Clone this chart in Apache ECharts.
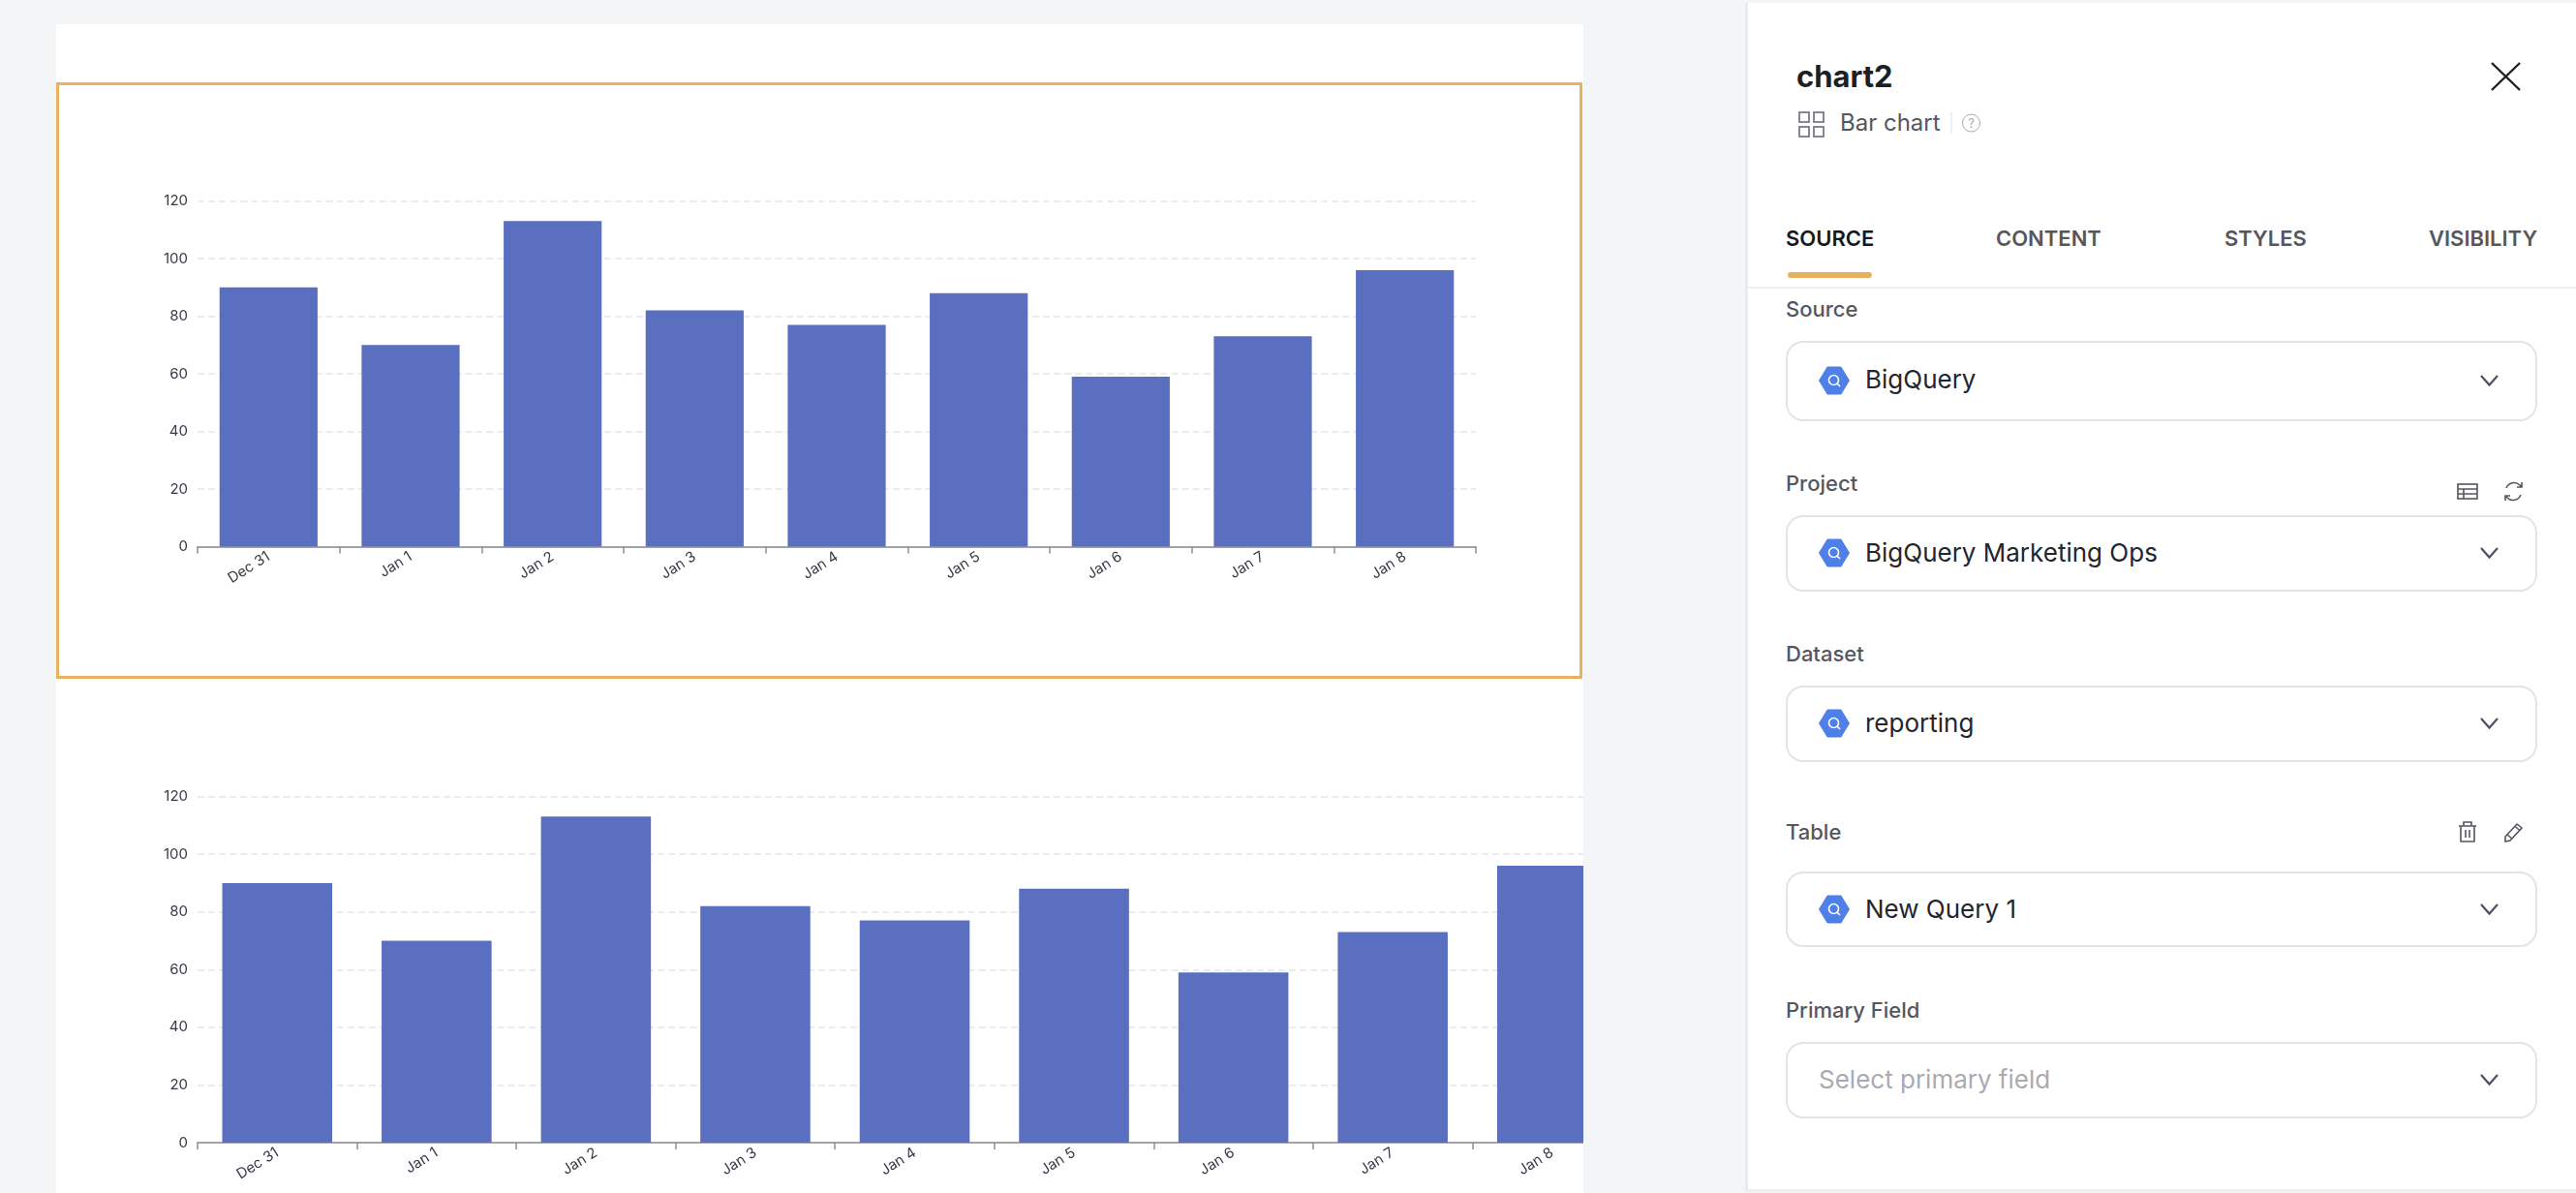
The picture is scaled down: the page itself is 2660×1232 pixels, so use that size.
<!DOCTYPE html>
<html>
<head>
<meta charset="utf-8">
<title>chart2</title>
<script src="https://cdn.jsdelivr.net/npm/echarts@6/dist/echarts.min.js"></script>
<style>
html, body { margin: 0; padding: 0; width: 2660px; height: 1232px; overflow: hidden; background: #f4f5f7; font-family: Inter, sans-serif; }
#chart { position: absolute; left: 58px; top: 25px; width: 1577px; height: 1207px; background: #fff; }
#frame { position: absolute; left: 58px; top: 85px; width: 1570px; height: 610px; border: 3px solid #e8b15f; pointer-events: none; }
#panel { position: absolute; left: 1802px; top: 3px; width: 858px; height: 1225px; background: #fff; border-left: 3px solid #e9eaee; border-bottom: 3px solid #eeeff2; }
.t { position: absolute; white-space: nowrap; transform: translateY(-50%); line-height: 1.2; }
.label { font-size: 22px; font-weight: 500; color: #55565e; left: 1844px; }
.tab { font-size: 22px; font-weight: 600; color: #55565e; }
.val { font-size: 26px; color: #24262d; left: 1926px; }
.box { position: absolute; left: 1844px; width: 772px; border: 2px solid #e3e4e9; border-radius: 18px; background: #fff; }
svg.i { position: absolute; overflow: visible; }
</style>
</head>
<body>
<div id="chart"></div>
<div id="frame"></div>
<div id="panel"></div>

<div class="t" style="left:1855px;top:79px;font-size:31px;font-weight:700;color:#1d1f25">chart2</div>
<svg class="i" style="left:2572px;top:64px" width="31" height="30" fill="none" stroke="#1d1f25" stroke-width="2.4"><path d="M1 1L30 29M30 1L1 29"/></svg>
<svg class="i" style="left:1857px;top:115px" width="27" height="27" fill="none" stroke="#7a7c84" stroke-width="1.8"><rect x="1" y="1" width="10" height="10"/><rect x="16" y="1" width="10" height="10"/><rect x="1" y="16" width="10" height="10"/><rect x="16" y="16" width="10" height="10"/></svg>
<div class="t" style="left:1900px;top:127px;font-size:24px;color:#55565e">Bar chart</div>
<div style="position:absolute;left:2014px;top:116px;width:2px;height:22px;background:#eeeff2"></div>
<div class="t" style="left:2026px;top:127px;width:17px;height:17px;border:1.5px solid #a9abb2;border-radius:50%;font-size:13px;line-height:17px;text-align:center;color:#a9abb2">?</div>

<div class="t tab" style="left:1844px;top:246px;color:#16181d">SOURCE</div>
<div class="t tab" style="left:2061px;top:246px">CONTENT</div>
<div class="t tab" style="left:2297px;top:246px">STYLES</div>
<div class="t tab" style="left:2508px;top:246px">VISIBILITY</div>
<div style="position:absolute;left:1846px;top:281px;width:87px;height:6px;border-radius:3px;background:#e8b15f"></div>
<div style="position:absolute;left:1805px;top:296px;width:855px;height:2px;background:#eeeff2"></div>

<div class="t label" style="top:319px">Source</div>
<div class="box" style="top:352px;height:79px"></div>
<div class="t val" style="top:392px">BigQuery</div>

<div class="t label" style="top:499px">Project</div>
<div class="box" style="top:532px;height:75px"></div>
<div class="t val" style="top:571px">BigQuery Marketing Ops</div>
<svg class="i" style="left:2537px;top:498px" width="22" height="19" fill="none" stroke="#55565e" stroke-width="1.6"><rect x="1" y="2" width="20" height="15"/><path d="M1 7H21M1 12H21M7 7V17"/></svg>
<svg class="i" style="left:2585px;top:497px" width="21" height="21" fill="none" stroke="#55565e" stroke-width="1.6"><path d="M3 7A8.500 8.500 0 0 1 17 4L19 6M19 1V6H14M18 14A8.500 8.500 0 0 1 4 17L2 15M2 20V15H7"/></svg>

<div class="t label" style="top:675px">Dataset</div>
<div class="box" style="top:708px;height:75px"></div>
<div class="t val" style="top:747px">reporting</div>

<div class="t label" style="top:859px">Table</div>
<div class="box" style="top:900px;height:74px"></div>
<div class="t val" style="top:939px">New Query 1</div>
<svg class="i" style="left:2538px;top:848px" width="20" height="22" fill="none" stroke="#55565e" stroke-width="1.6"><path d="M1 5H19M6 5V1H14V5M3 5V21H17V5M8 9V17M12 9V17"/></svg>
<svg class="i" style="left:2585px;top:849px" width="21" height="21" fill="none" stroke="#55565e" stroke-width="1.6"><path d="M2 15L14 2L19 6L7 19L2 20ZM12 4.500L17 8.500M4 13L9 17"/></svg>

<div class="t label" style="top:1043px">Primary Field</div>
<div class="box" style="top:1076px;height:75px"></div>
<div class="t val" style="top:1115px;left:1878px;color:#a9abb2">Select primary field</div>

<script>
var categories = ['Dec 31', 'Jan 1', 'Jan 2', 'Jan 3', 'Jan 4', 'Jan 5', 'Jan 6', 'Jan 7', 'Jan 8'];
var seriesValues = [90, 70, 113, 82, 77, 88, 59, 73, 96];

// hexagon on the first four selects, chevron on all five
var iconRows = [393, 571, 747, 939];
var chevronRows = [393, 571, 747, 939, 1115];

function addSvg(left, top, w, h, inner){
	var s = document.createElementNS('http://www.w3.org/2000/svg', 'svg');
	s.setAttribute('class', 'i');
	s.setAttribute('width', w);
	s.setAttribute('height', h);
	s.style.left = left + 'px';
	s.style.top = top + 'px';
	s.innerHTML = inner;
	document.body.appendChild(s);
}

for(var i=0; i<iconRows.length; i++){
	addSvg(1878, iconRows[i]-15, 32, 30,
		'<path d="M9 1H23L31.5 15L23 29H9L.5 15Z" fill="#4f7fe8" stroke="#4f7fe8" stroke-linejoin="round"/>' +
		'<circle cx="15.5" cy="14.5" r="5" fill="none" stroke="#fff" stroke-width="1.6"/><path d="M19 18L22 21" stroke="#fff" stroke-width="1.6"/>');
}
for(i=0; i<chevronRows.length; i++){
	addSvg(2561, chevronRows[i]-6, 19, 12,
		'<path d="M1 1L9.500 10.500L18 1" fill="none" stroke="#4c5163" stroke-width="2.2"/>');
}

var labelStyle = { fontFamily: 'Inter', fontSize: 15, color: '#3a3a46' };

function xAxis(gridIndex){
	return {
		type: 'category',
		gridIndex: gridIndex,
		data: categories,
		axisLine: { lineStyle: { color: '#a3a4ab', width: 2 } },
		axisTick: { show: true, length: 7, lineStyle: { color: '#8e8f96', width: 1.5 } },
		axisLabel: Object.assign({ rotate: 32, margin: 9, interval: 0 }, labelStyle)
	};
}

function yAxis(gridIndex){
	return {
		type: 'value',
		gridIndex: gridIndex,
		min: 0,
		max: 120,
		interval: 20,
		axisLine: { show: false },
		axisTick: { show: false },
		axisLabel: Object.assign({ margin: 10 }, labelStyle),
		splitLine: { lineStyle: { color: '#eaebf3', width: 2, type: [7, 4.05] } }
	};
}

function barSeries(index){
	return {
		type: 'bar',
		xAxisIndex: index,
		yAxisIndex: index,
		data: seriesValues,
		barWidth: '69%',
		itemStyle: { color: '#5a6fc0' },
		animation: false
	};
}

var chart = echarts.init(document.getElementById('chart'));
chart.setOption({
	animation: false,
	backgroundColor: '#fff',
	grid: [
		// second grid runs past the right edge of the canvas, so no shrink to fit
		{ left: 146, top: 182.5, width: 1320, height: 357, outerBoundsMode: 'none' },
		{ left: 146, top: 797.5, width: 1481, height: 357.5, outerBoundsMode: 'none' }
	],
	xAxis: [xAxis(0), xAxis(1)],
	yAxis: [yAxis(0), yAxis(1)],
	series: [barSeries(0), barSeries(1)]
});
</script>
</body>
</html>
